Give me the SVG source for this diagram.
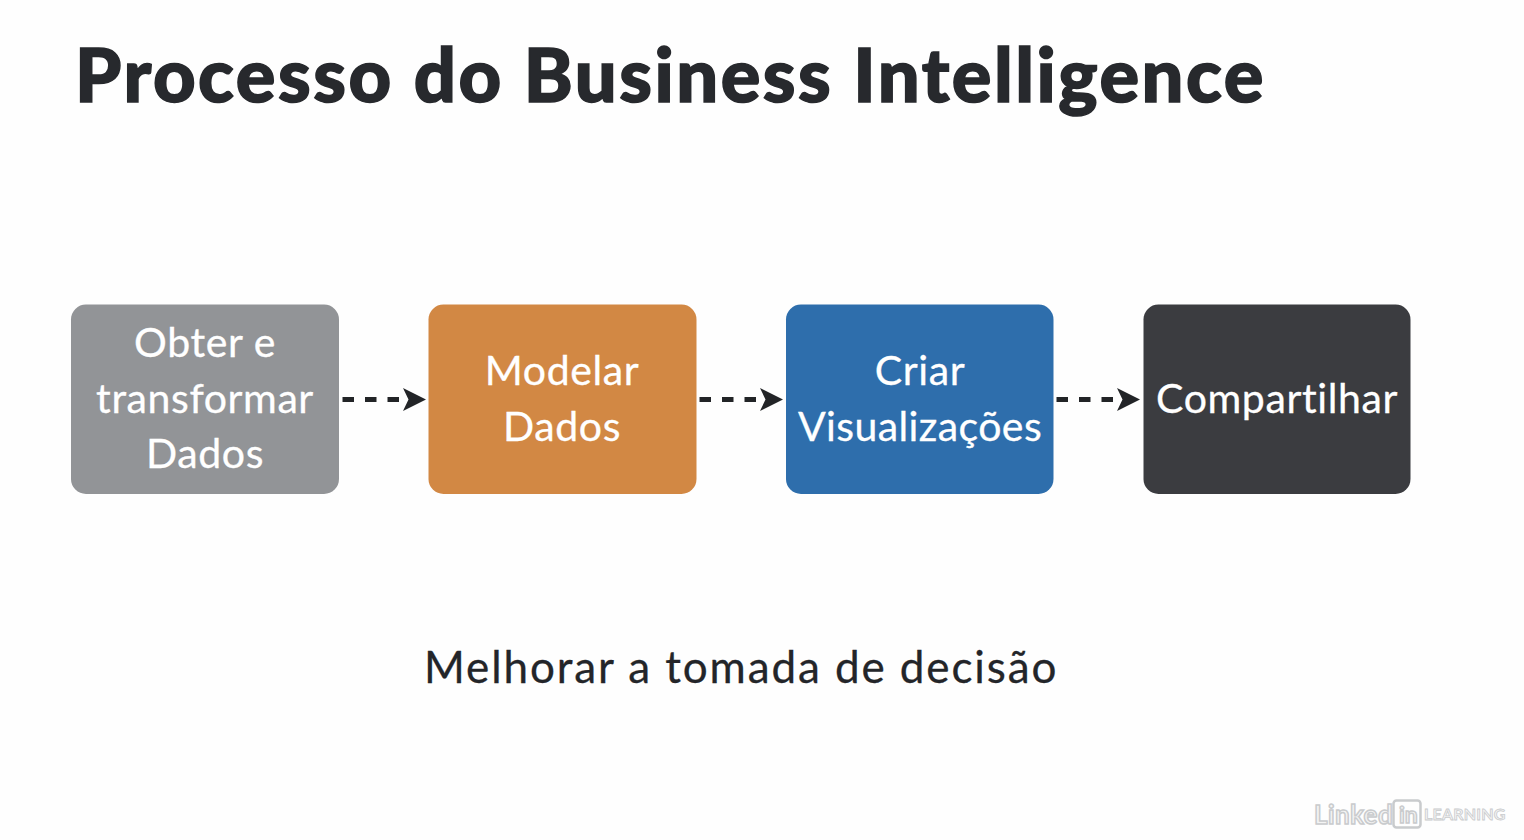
<svg xmlns="http://www.w3.org/2000/svg" width="1524" height="840" viewBox="0 0 1524 840">
<style>
text{font-family:Lato,"Open Sans",sans-serif}
.t{font-size:41px;fill:#fff;stroke:#fff;stroke-width:.3px;text-anchor:middle;letter-spacing:.6px}
.c{fill:none;stroke:#222427;stroke-width:5;stroke-dasharray:11.500 11}
.h{fill:#222427}
.l{fill:#f4f4f4;stroke:#c9cbcd;stroke-width:1.500;font-weight:700}
</style>
<rect width="1524" height="840" fill="#fefefe"/>
<text id="title" x="75" y="102" font-size="74" font-weight="900" fill="#27292d" stroke="#27292d" stroke-width="1.500" letter-spacing="2.500">Processo do Business Intelligence</text>
<g id="n1"><rect x="71" y="304.500" width="268" height="189.500" rx="15" fill="#929497"/><text class="t" x="205" y="357">Obter e</text><text class="t" x="205" y="413">transformar</text><text class="t" x="205" y="468">Dados</text></g>
<g id="n2"><rect x="428.500" y="304.500" width="268" height="189.500" rx="15" fill="#d28844"/><text class="t" x="562" y="385">Modelar</text><text class="t" x="562" y="441">Dados</text></g>
<g id="n3"><rect x="786" y="304.500" width="267.500" height="189.500" rx="15" fill="#2e6eac"/><text class="t" x="920" y="385">Criar</text><text class="t" x="920" y="441" style="letter-spacing:.4px">Visualizações</text></g>
<g id="n4"><rect x="1143.500" y="304.500" width="267" height="189.500" rx="15" fill="#3b3c40"/><text class="t" x="1277" y="413">Compartilhar</text></g>
<g id="connectors">
<path class="c" d="M342.500 399.500H403"/><path class="h" d="M403 388L426 399.500L403 411L408.500 399.500Z"/>
<path class="c" d="M699.500 399.500H760"/><path class="h" d="M760 388L783 399.500L760 411L765.500 399.500Z"/>
<path class="c" d="M1056.500 399.500H1117"/><path class="h" d="M1117 388L1140 399.500L1117 411L1122.500 399.500Z"/>
</g>
<text id="caption" x="424" y="683" font-size="44" fill="#232529" stroke="#232529" stroke-width=".3" letter-spacing="1.900">Melhorar a tomada de decisão</text>
<g id="logo"><text class="l" x="1314" y="824" font-size="26" letter-spacing=".4">Linked</text><rect x="1393.500" y="800.500" width="27" height="27" rx="3" fill="none" stroke="#c9cbcd" stroke-width="2.500"/><text class="l" x="1399" y="823" font-size="23">in</text><text class="l" x="1424" y="820" font-size="16" style="stroke-width:.8px" letter-spacing=".2">LEARNING</text></g>
</svg>
